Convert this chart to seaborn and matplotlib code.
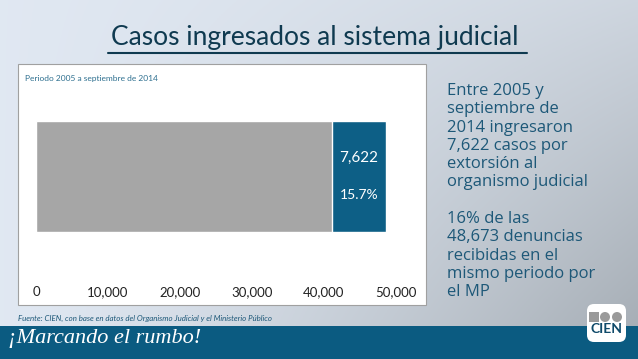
import matplotlib

matplotlib.use("Agg")

import matplotlib.pyplot as plt
import numpy as np
import pandas as pd
import seaborn as sns
from matplotlib.patches import Circle, FancyBboxPatch, Rectangle
from matplotlib.ticker import FuncFormatter


series = ["Otros casos", "Extorsión"]
casos = [41051, 7622]
total_denuncias = 48673
x_ticks = [0, 10000, 20000, 30000, 40000, 50000]

TITULO = "Casos ingresados al sistema judicial"
SUBTITULO = "Periodo 2005 a septiembre de 2014"
FUENTE = "Fuente: CIEN, con base en datos del Organismo Judicial y el Ministerio Público"
NOTA = [
    "Entre 2005 y", "septiembre de", "2014 ingresaron", "7,622 casos por", "extorsión al",
    "organismo judicial", "",
    "16% de las", "48,673 denuncias", "recibidas en el", "mismo periodo por", "el MP",
]
LEMA = "¡Marcando el rumbo!"

GRIS = "#a6a6a6"
AZUL = "#0d5f86"
AZUL_BANDA = "#0b5b81"
AZUL_TEXTO = "#1d5878"
TITULO_COLOR = "#0f3a50"

W, H = 638, 359

sns.set_theme(style="white")
plt.rcParams["font.family"] = ["Lato", "DejaVu Sans"]

fig = plt.figure(figsize=(W / 100, H / 100), dpi=100)

# fondo en coordenadas de pixel
bg = fig.add_axes([0, 0, 1, 1], zorder=0)
xx, yy = np.meshgrid(np.linspace(0, 1, 320), np.linspace(0, 1, 180))
t = np.clip(xx**1.3 * (0.3 + 0.7 * yy), 0, 1)[..., None]
c0 = np.array([0.88, 0.91, 0.95])
c1 = np.array([0.64, 0.67, 0.70])
bg.imshow(c0 + (c1 - c0) * t, extent=[0, W, H, 0], aspect="auto")
bg.set_xlim(0, W)
bg.set_ylim(H, 0)
bg.axis("off")

bg.add_patch(Rectangle((18, 64), 408, 241, facecolor="white", edgecolor="#a0a0a0", lw=0.8))
bg.add_patch(Rectangle((0, 326), W, 33, facecolor=AZUL_BANDA, edgecolor="none"))

bg.text(315, 45, TITULO, ha="center", va="baseline", fontsize=19, color=TITULO_COLOR)
bg.plot([108, 527], [53, 53], color=TITULO_COLOR, lw=1.5)
bg.text(25, 78, SUBTITULO, ha="left", va="center", fontsize=6, color="#2d6f8f")
for i, linea in enumerate(NOTA):
    bg.text(447, 95 + 18.3 * i, linea, ha="left", va="baseline", fontsize=12,
            color=AZUL_TEXTO, family=["Open Sans", "Lato"])
bg.text(18, 318, FUENTE, ha="left", va="center", fontsize=5.7, style="italic", color=AZUL_TEXTO)
bg.text(8, 339, LEMA, ha="left", va="center", fontsize=16, style="italic", color="white",
        family=["Liberation Serif", "DejaVu Serif"])

# logo CIEN
bg.add_patch(FancyBboxPatch((587, 304), 39, 38, boxstyle="round,pad=0,rounding_size=7",
                            facecolor="white", edgecolor="none"))
bg.add_patch(Rectangle((589, 312), 10, 10, facecolor="#9a9a9a", edgecolor="none"))
bg.add_patch(Circle((605, 317), 5, facecolor="#9a9a9a", edgecolor="none"))
bg.add_patch(Circle((617, 317), 5, facecolor="#9a9a9a", edgecolor="none"))
bg.text(606.5, 329, "CIEN", ha="center", va="center", fontsize=10, fontweight="bold",
        color="#0f4a6a")

# barra apilada
ax = fig.add_axes([36 / W, 1 - 232 / H, 360 / W, 111 / H], zorder=1)
ax.patch.set_visible(False)
total = pd.DataFrame({"serie": ["Total"], "casos": [sum(casos)]})
otros = pd.DataFrame({"serie": ["Total"], "casos": [casos[0]]})
sns.barplot(data=total, x="casos", y="serie", color=AZUL, width=1, saturation=1, ax=ax)
sns.barplot(data=otros, x="casos", y="serie", color=GRIS, width=1, saturation=1, ax=ax)
ax.set_xlim(0, 50000)
ax.set_ylim(0.5, -0.5)
ax.set_xticks(x_ticks)
ax.xaxis.set_major_formatter(FuncFormatter(lambda v, _: f"{v:,.0f}"))
ax.tick_params(axis="x", length=0, pad=39, labelsize=9.5, labelcolor="#222222")
ax.set_yticks([])
ax.set_xlabel("")
ax.set_ylabel("")
sns.despine(ax=ax, left=True, bottom=True)

centro = casos[0] + casos[1] / 2
ax.text(centro, -0.17, f"{casos[1]:,}", ha="center", va="center", fontsize=11, color="white")
ax.text(centro, 0.17, f"{100 * casos[1] / total_denuncias:.1f}%", ha="center", va="center",
        fontsize=10, color="white")

plt.savefig("out.png", dpi=100)
plt.close()
